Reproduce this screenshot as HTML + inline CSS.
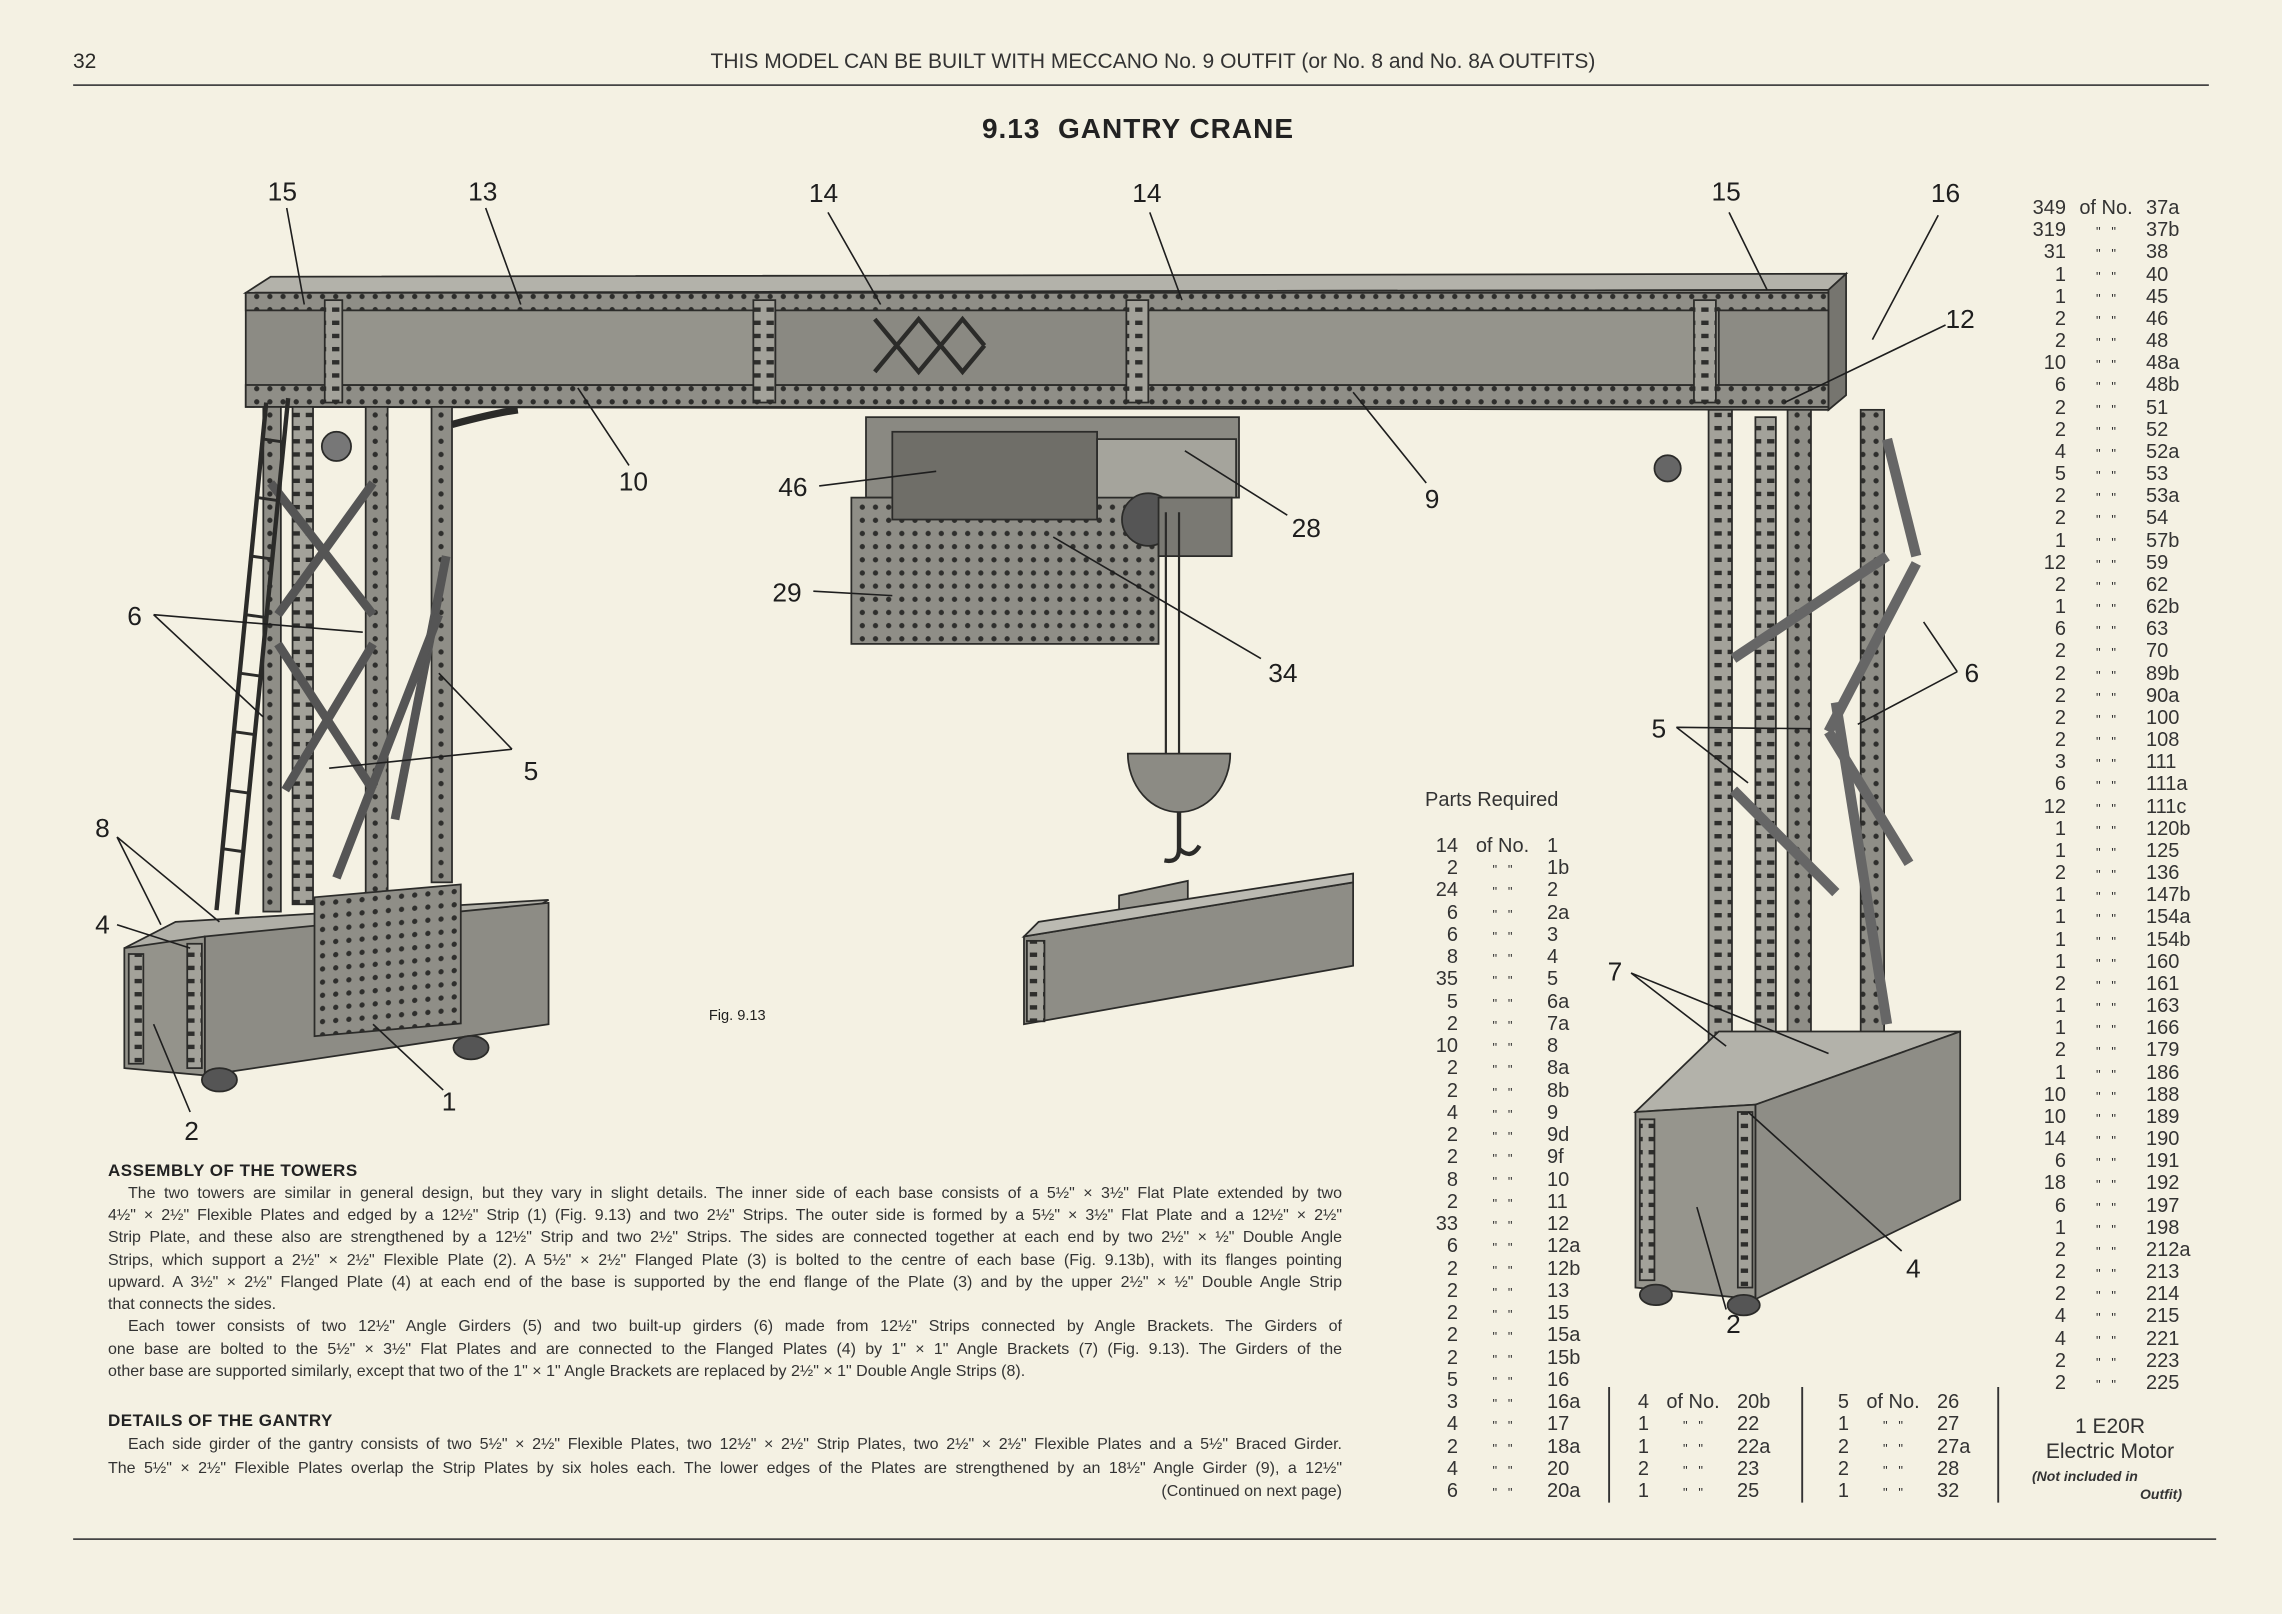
<!DOCTYPE html>
<html><head><meta charset="utf-8">
<style>
html,body{margin:0;padding:0}
body{width:2282px;height:1614px;position:relative;background:#f4f1e3;overflow:hidden;font-family:"Liberation Sans",sans-serif;color:#2a2a28}
svg{position:absolute;left:0;top:0}
.t{position:absolute;white-space:nowrap}
.p{position:absolute;left:108px;width:1234px;font-family:"Liberation Sans Narrow","Liberation Sans",sans-serif;font-size:16px;line-height:22px;text-align:justify;text-align-last:justify;white-space:nowrap;color:#333}
.h{position:absolute;left:108px;font-weight:bold;font-size:17px;letter-spacing:0.5px;color:#222}
.r{position:absolute;height:22px;line-height:22px;font-size:20px;white-space:nowrap;color:#333}
.r span{display:inline-block}
.q{width:44px;text-align:right}
.c1 .o{width:89px;text-align:center;font-size:13px}
.c2 .o{width:80px;text-align:center;font-size:13px}
.c3 .o{width:88px;text-align:center;font-size:13px}
.of{font-size:20px!important}
</style></head><body>
<svg width="2282" height="1614" viewBox="0 0 1560 1103">
<defs>
<pattern id="hp" width="9" height="9" patternUnits="userSpaceOnUse"><rect width="9" height="9" fill="#8f8e87"/><circle cx="4.5" cy="4.5" r="1.8" fill="#2e2e2c"/></pattern>
<pattern id="hv" width="9" height="9" patternUnits="userSpaceOnUse"><rect width="9" height="9" fill="#a3a29a"/><rect x="2" y="3" width="5" height="3" fill="#2e2e2c"/></pattern>
</defs>
<g stroke="#2b2b29" stroke-width="1.2">
<line x1="50" y1="58" x2="1510" y2="58" stroke="#444"/>
<line x1="50" y1="1052" x2="1515" y2="1052" stroke="#444"/>
<polygon points="168,200 185,189 1262,187 1250,198" fill="#b3b2aa"/>
<polygon points="168,200 1250,198 1250,280 168,278" fill="#8c8b84"/>
<rect x="168" y="200" width="1082" height="12" fill="url(#hp)"/>
<rect x="168" y="263" width="1082" height="15" fill="url(#hp)"/>
<rect x="225" y="212" width="290" height="51" fill="#95948c"/>
<rect x="530" y="212" width="240" height="51" fill="#8a8982"/>
<rect x="785" y="212" width="390" height="51" fill="#95948c"/>
<path d="M598,218 l15,18 l15,-18 l15,18 l15,-18 l15,18 M598,254 l15,-18 l15,18 l15,-18 l15,18 l15,-18" fill="none" stroke-width="3"/>
<rect x="515" y="205" width="15" height="70" fill="url(#hv)"/>
<rect x="770" y="205" width="15" height="70" fill="url(#hv)"/>
<rect x="1158" y="205" width="15" height="70" fill="url(#hv)"/>
<rect x="222" y="205" width="12" height="70" fill="url(#hv)"/>
<polygon points="1250,198 1262,187 1262,270 1250,280" fill="#76756f"/>
<rect x="200" y="278" width="14" height="340" fill="url(#hv)"/>
<rect x="250" y="278" width="15" height="335" fill="url(#hp)"/>
<rect x="295" y="278" width="14" height="325" fill="url(#hp)"/>
<rect x="180" y="278" width="12" height="345" fill="url(#hp)"/>
<g stroke-width="6" stroke="#555">
<line x1="185" y1="330" x2="255" y2="420"/><line x1="255" y1="330" x2="190" y2="420"/>
<line x1="190" y1="440" x2="255" y2="540"/><line x1="255" y1="440" x2="195" y2="540"/>
<line x1="270" y1="560" x2="305" y2="380"/><line x1="230" y1="600" x2="300" y2="420"/>
</g>
<path d="M309,290 q30,-8 45,-10" fill="none" stroke-width="5"/>
<line x1="148" y1="622" x2="182" y2="275" stroke-width="3"/>
<line x1="162" y1="625" x2="197" y2="272" stroke-width="3"/>
<g stroke-width="2"><line x1="152" y1="580" x2="166" y2="582"/><line x1="156" y1="540" x2="170" y2="542"/><line x1="160" y1="500" x2="174" y2="502"/><line x1="164" y1="460" x2="178" y2="462"/><line x1="168" y1="420" x2="182" y2="422"/><line x1="172" y1="380" x2="186" y2="382"/><line x1="176" y1="340" x2="190" y2="342"/><line x1="180" y1="300" x2="194" y2="302"/></g>
<circle cx="230" cy="305" r="10" fill="#777"/>
<polygon points="85,648 120,630 375,615 340,635" fill="#b0afa7"/>
<polygon points="140,640 375,617 375,700 140,735" fill="#8d8c85"/>
<rect x="215" y="612" width="100" height="95" fill="url(#hp)" transform="skewY(-5) translate(0,20)"/>
<polygon points="85,648 140,640 140,735 85,730" fill="#94938b"/>
<rect x="88" y="652" width="10" height="75" fill="url(#hv)"/>
<rect x="128" y="645" width="10" height="85" fill="url(#hv)"/>
<ellipse cx="150" cy="738" rx="12" ry="8" fill="#555"/>
<ellipse cx="322" cy="716" rx="12" ry="8" fill="#555"/>
<rect x="1168" y="280" width="16" height="440" fill="url(#hv)"/>
<rect x="1222" y="280" width="16" height="430" fill="url(#hp)"/>
<rect x="1200" y="285" width="14" height="425" fill="url(#hv)"/>
<rect x="1272" y="280" width="16" height="430" fill="url(#hp)"/>
<g stroke-width="7" stroke="#666">
<line x1="1185" y1="450" x2="1290" y2="380"/><line x1="1290" y1="300" x2="1310" y2="380"/>
<line x1="1310" y1="385" x2="1250" y2="500"/><line x1="1250" y1="500" x2="1305" y2="590"/>
<line x1="1185" y1="540" x2="1255" y2="610"/><line x1="1255" y1="480" x2="1290" y2="700"/>
</g>
<circle cx="1140" cy="320" r="9" fill="#666"/>
<polygon points="1118,760 1175,705 1340,705 1200,755" fill="#b3b2aa"/>
<polygon points="1200,755 1340,705 1340,820 1200,888" fill="#8e8d86"/>
<polygon points="1118,760 1200,755 1200,888 1118,880" fill="#96958d"/>
<rect x="1121" y="765" width="10" height="110" fill="url(#hv)"/>
<rect x="1188" y="760" width="10" height="120" fill="url(#hv)"/>
<ellipse cx="1132" cy="885" rx="11" ry="7" fill="#555"/>
<ellipse cx="1192" cy="892" rx="11" ry="7" fill="#555"/>
<rect x="592" y="285" width="255" height="55" fill="#8a8982"/>
<rect x="582" y="340" width="210" height="100" fill="url(#hp)"/>
<rect x="610" y="295" width="140" height="60" fill="#6f6e68"/>
<rect x="750" y="300" width="95" height="40" fill="#a5a49c"/>
<circle cx="785" cy="355" r="18" fill="#555"/>
<rect x="792" y="340" width="50" height="40" fill="#7a7973"/>
<line x1="797" y1="350" x2="797" y2="515" stroke-width="1.5"/>
<line x1="806" y1="350" x2="806" y2="515" stroke-width="1.5"/>
<path d="M771,515 h70 a35,40 0 0 1 -70,0 z" fill="#8c8b84"/>
<path d="M806,555 v25 q0,10 -10,8 M806,580 q8,8 14,-2" fill="none" stroke-width="3"/>
<polygon points="765,612 812,602 812,625 765,632" fill="#999890"/>
<polygon points="700,640 925,603 925,660 700,700" fill="#8e8d86"/>
<polygon points="700,640 710,630 925,597 925,603" fill="#bbbab2"/>
<rect x="702" y="643" width="12" height="55" fill="url(#hv)"/>
</g>
<g stroke="#1e1e1e" stroke-width="1.1" fill="none">
<path d="M196,142 L208,208 M332,142 L356,208 M566,145 L602,208 M786,145 L808,205 M1182,145 L1208,198 M1325,147 L1280,232 M1330,222 L1220,275 M430,318 L395,265 M560,332 L640,322 M880,352 L810,308 M975,330 L925,268 M556,404 L610,407 M862,450 L720,367 M105,420 L180,490 M105,420 L248,432 M350,512 L300,460 M350,512 L225,525 M80,572 L110,632 M80,572 L150,630 M80,632 L130,648 M130,760 L105,700 M303,745 L255,700 M1338,459 L1315,425 M1338,459 L1270,495 M1146,497 L1238,498 M1146,497 L1195,535 M1115,665 L1180,715 M1115,665 L1250,720 M1300,855 L1195,760 M1180,895 L1160,825"/>
</g>
<g font-family="Liberation Sans, sans-serif" font-size="18" fill="#1e1e1e" text-anchor="middle">
<text x="193" y="137">15</text><text x="330" y="137">13</text><text x="563" y="138">14</text><text x="784" y="138">14</text><text x="1180" y="137">15</text><text x="1330" y="138">16</text><text x="1340" y="224">12</text><text x="433" y="335">10</text><text x="542" y="339">46</text><text x="893" y="367">28</text><text x="979" y="347">9</text><text x="538" y="411">29</text><text x="877" y="466">34</text><text x="92" y="427">6</text><text x="363" y="533">5</text><text x="70" y="572">8</text><text x="70" y="638">4</text><text x="131" y="779">2</text><text x="307" y="759">1</text><text x="1348" y="466">6</text><text x="1134" y="504">5</text><text x="1104" y="670">7</text><text x="1308" y="873">4</text><text x="1185" y="911">2</text>
<text x="504" y="697" font-size="10">Fig. 9.13</text>
</g>
<g stroke="#333" stroke-width="1.3"><line x1="1100" y1="948" x2="1100" y2="1027"/><line x1="1232" y1="948" x2="1232" y2="1027"/><line x1="1366" y1="948" x2="1366" y2="1027"/></g>
</svg>

<div class="t" style="left:73px;top:50px;font-size:21px">32</div>
<div class="t" style="left:0;width:2306px;text-align:center;top:50px;font-size:21px;color:#333">THIS MODEL CAN BE BUILT WITH MECCANO No. 9 OUTFIT (or No. 8 and No. 8A OUTFITS)</div>
<div class="t" style="left:0;width:2276px;text-align:center;top:113px;font-size:28px;font-weight:bold;letter-spacing:1px;color:#222">9.13&nbsp; GANTRY CRANE</div>

<div class="h" style="top:1161px">ASSEMBLY OF THE TOWERS</div>
<div class="p" style="top:1183px;left:128px;width:1214px">The two towers are similar in general design, but they vary in slight details. The inner side of each base consists of a 5½" × 3½" Flat Plate extended by two</div>
<div class="p" style="top:1205px">4½" × 2½" Flexible Plates and edged by a 12½" Strip (1) (Fig. 9.13) and two 2½" Strips. The outer side is formed by a 5½" × 3½" Flat Plate and a 12½" × 2½"</div>
<div class="p" style="top:1227px">Strip Plate, and these also are strengthened by a 12½" Strip and two 2½" Strips. The sides are connected together at each end by two 2½" × ½" Double Angle</div>
<div class="p" style="top:1250px">Strips, which support a 2½" × 2½" Flexible Plate (2). A 5½" × 2½" Flanged Plate (3) is bolted to the centre of each base (Fig. 9.13b), with its flanges pointing</div>
<div class="p" style="top:1272px">upward. A 3½" × 2½" Flanged Plate (4) at each end of the base is supported by the end flange of the Plate (3) and by the upper 2½" × ½" Double Angle Strip</div>
<div class="p" style="top:1294px;text-align-last:left">that connects the sides.</div>
<div class="p" style="top:1316px;left:128px;width:1214px">Each tower consists of two 12½" Angle Girders (5) and two built-up girders (6) made from 12½" Strips connected by Angle Brackets. The Girders of</div>
<div class="p" style="top:1339px">one base are bolted to the 5½" × 3½" Flat Plates and are connected to the Flanged Plates (4) by 1" × 1" Angle Brackets (7) (Fig. 9.13). The Girders of the</div>
<div class="p" style="top:1361px;text-align-last:left">other base are supported similarly, except that two of the 1" × 1" Angle Brackets are replaced by 2½" × 1" Double Angle Strips (8).</div>
<div class="h" style="top:1411px">DETAILS OF THE GANTRY</div>
<div class="p" style="top:1434px;left:128px;width:1214px">Each side girder of the gantry consists of two 5½" × 2½" Flexible Plates, two 12½" × 2½" Strip Plates, two 2½" × 2½" Flexible Plates and a 5½" Braced Girder.</div>
<div class="p" style="top:1458px">The 5½" × 2½" Flexible Plates overlap the Strip Plates by six holes each. The lower edges of the Plates are strengthened by an 18½" Angle Girder (9), a 12½"</div>
<div class="p" style="top:1481px;text-align:right;text-align-last:right">(Continued on next page)</div>

<div class="t" style="left:1425px;top:789px;font-size:20px;color:#333">Parts Required</div>

<div class="c1">
<div class="r" style="left:1414px;top:835px"><span class="q">14</span><span class="o of">of No.</span><span>1</span></div>
<div class="r" style="left:1414px;top:857px"><span class="q">2</span><span class="o">"&nbsp;&nbsp;&nbsp;"</span><span>1b</span></div>
<div class="r" style="left:1414px;top:879px"><span class="q">24</span><span class="o">"&nbsp;&nbsp;&nbsp;"</span><span>2</span></div>
<div class="r" style="left:1414px;top:902px"><span class="q">6</span><span class="o">"&nbsp;&nbsp;&nbsp;"</span><span>2a</span></div>
<div class="r" style="left:1414px;top:924px"><span class="q">6</span><span class="o">"&nbsp;&nbsp;&nbsp;"</span><span>3</span></div>
<div class="r" style="left:1414px;top:946px"><span class="q">8</span><span class="o">"&nbsp;&nbsp;&nbsp;"</span><span>4</span></div>
<div class="r" style="left:1414px;top:968px"><span class="q">35</span><span class="o">"&nbsp;&nbsp;&nbsp;"</span><span>5</span></div>
<div class="r" style="left:1414px;top:991px"><span class="q">5</span><span class="o">"&nbsp;&nbsp;&nbsp;"</span><span>6a</span></div>
<div class="r" style="left:1414px;top:1013px"><span class="q">2</span><span class="o">"&nbsp;&nbsp;&nbsp;"</span><span>7a</span></div>
<div class="r" style="left:1414px;top:1035px"><span class="q">10</span><span class="o">"&nbsp;&nbsp;&nbsp;"</span><span>8</span></div>
<div class="r" style="left:1414px;top:1057px"><span class="q">2</span><span class="o">"&nbsp;&nbsp;&nbsp;"</span><span>8a</span></div>
<div class="r" style="left:1414px;top:1080px"><span class="q">2</span><span class="o">"&nbsp;&nbsp;&nbsp;"</span><span>8b</span></div>
<div class="r" style="left:1414px;top:1102px"><span class="q">4</span><span class="o">"&nbsp;&nbsp;&nbsp;"</span><span>9</span></div>
<div class="r" style="left:1414px;top:1124px"><span class="q">2</span><span class="o">"&nbsp;&nbsp;&nbsp;"</span><span>9d</span></div>
<div class="r" style="left:1414px;top:1146px"><span class="q">2</span><span class="o">"&nbsp;&nbsp;&nbsp;"</span><span>9f</span></div>
<div class="r" style="left:1414px;top:1169px"><span class="q">8</span><span class="o">"&nbsp;&nbsp;&nbsp;"</span><span>10</span></div>
<div class="r" style="left:1414px;top:1191px"><span class="q">2</span><span class="o">"&nbsp;&nbsp;&nbsp;"</span><span>11</span></div>
<div class="r" style="left:1414px;top:1213px"><span class="q">33</span><span class="o">"&nbsp;&nbsp;&nbsp;"</span><span>12</span></div>
<div class="r" style="left:1414px;top:1235px"><span class="q">6</span><span class="o">"&nbsp;&nbsp;&nbsp;"</span><span>12a</span></div>
<div class="r" style="left:1414px;top:1258px"><span class="q">2</span><span class="o">"&nbsp;&nbsp;&nbsp;"</span><span>12b</span></div>
<div class="r" style="left:1414px;top:1280px"><span class="q">2</span><span class="o">"&nbsp;&nbsp;&nbsp;"</span><span>13</span></div>
<div class="r" style="left:1414px;top:1302px"><span class="q">2</span><span class="o">"&nbsp;&nbsp;&nbsp;"</span><span>15</span></div>
<div class="r" style="left:1414px;top:1324px"><span class="q">2</span><span class="o">"&nbsp;&nbsp;&nbsp;"</span><span>15a</span></div>
<div class="r" style="left:1414px;top:1347px"><span class="q">2</span><span class="o">"&nbsp;&nbsp;&nbsp;"</span><span>15b</span></div>
<div class="r" style="left:1414px;top:1369px"><span class="q">5</span><span class="o">"&nbsp;&nbsp;&nbsp;"</span><span>16</span></div>
<div class="r" style="left:1414px;top:1391px"><span class="q">3</span><span class="o">"&nbsp;&nbsp;&nbsp;"</span><span>16a</span></div>
<div class="r" style="left:1414px;top:1413px"><span class="q">4</span><span class="o">"&nbsp;&nbsp;&nbsp;"</span><span>17</span></div>
<div class="r" style="left:1414px;top:1436px"><span class="q">2</span><span class="o">"&nbsp;&nbsp;&nbsp;"</span><span>18a</span></div>
<div class="r" style="left:1414px;top:1458px"><span class="q">4</span><span class="o">"&nbsp;&nbsp;&nbsp;"</span><span>20</span></div>
<div class="r" style="left:1414px;top:1480px"><span class="q">6</span><span class="o">"&nbsp;&nbsp;&nbsp;"</span><span>20a</span></div>
</div>

<div class="c3">
<div class="r" style="left:1605px;top:1391px"><span class="q">4</span><span class="o of">of No.</span><span>20b</span></div>
<div class="r" style="left:1605px;top:1413px"><span class="q">1</span><span class="o">"&nbsp;&nbsp;&nbsp;"</span><span>22</span></div>
<div class="r" style="left:1605px;top:1436px"><span class="q">1</span><span class="o">"&nbsp;&nbsp;&nbsp;"</span><span>22a</span></div>
<div class="r" style="left:1605px;top:1458px"><span class="q">2</span><span class="o">"&nbsp;&nbsp;&nbsp;"</span><span>23</span></div>
<div class="r" style="left:1605px;top:1480px"><span class="q">1</span><span class="o">"&nbsp;&nbsp;&nbsp;"</span><span>25</span></div>
<div class="r" style="left:1805px;top:1391px"><span class="q">5</span><span class="o of">of No.</span><span>26</span></div>
<div class="r" style="left:1805px;top:1413px"><span class="q">1</span><span class="o">"&nbsp;&nbsp;&nbsp;"</span><span>27</span></div>
<div class="r" style="left:1805px;top:1436px"><span class="q">2</span><span class="o">"&nbsp;&nbsp;&nbsp;"</span><span>27a</span></div>
<div class="r" style="left:1805px;top:1458px"><span class="q">2</span><span class="o">"&nbsp;&nbsp;&nbsp;"</span><span>28</span></div>
<div class="r" style="left:1805px;top:1480px"><span class="q">1</span><span class="o">"&nbsp;&nbsp;&nbsp;"</span><span>32</span></div>
</div>

<div class="c2">
<div class="r" style="left:2022px;top:197px"><span class="q">349</span><span class="o of">of No.</span><span>37a</span></div>
<div class="r" style="left:2022px;top:219px"><span class="q">319</span><span class="o">"&nbsp;&nbsp;&nbsp;"</span><span>37b</span></div>
<div class="r" style="left:2022px;top:241px"><span class="q">31</span><span class="o">"&nbsp;&nbsp;&nbsp;"</span><span>38</span></div>
<div class="r" style="left:2022px;top:264px"><span class="q">1</span><span class="o">"&nbsp;&nbsp;&nbsp;"</span><span>40</span></div>
<div class="r" style="left:2022px;top:286px"><span class="q">1</span><span class="o">"&nbsp;&nbsp;&nbsp;"</span><span>45</span></div>
<div class="r" style="left:2022px;top:308px"><span class="q">2</span><span class="o">"&nbsp;&nbsp;&nbsp;"</span><span>46</span></div>
<div class="r" style="left:2022px;top:330px"><span class="q">2</span><span class="o">"&nbsp;&nbsp;&nbsp;"</span><span>48</span></div>
<div class="r" style="left:2022px;top:352px"><span class="q">10</span><span class="o">"&nbsp;&nbsp;&nbsp;"</span><span>48a</span></div>
<div class="r" style="left:2022px;top:374px"><span class="q">6</span><span class="o">"&nbsp;&nbsp;&nbsp;"</span><span>48b</span></div>
<div class="r" style="left:2022px;top:397px"><span class="q">2</span><span class="o">"&nbsp;&nbsp;&nbsp;"</span><span>51</span></div>
<div class="r" style="left:2022px;top:419px"><span class="q">2</span><span class="o">"&nbsp;&nbsp;&nbsp;"</span><span>52</span></div>
<div class="r" style="left:2022px;top:441px"><span class="q">4</span><span class="o">"&nbsp;&nbsp;&nbsp;"</span><span>52a</span></div>
<div class="r" style="left:2022px;top:463px"><span class="q">5</span><span class="o">"&nbsp;&nbsp;&nbsp;"</span><span>53</span></div>
<div class="r" style="left:2022px;top:485px"><span class="q">2</span><span class="o">"&nbsp;&nbsp;&nbsp;"</span><span>53a</span></div>
<div class="r" style="left:2022px;top:507px"><span class="q">2</span><span class="o">"&nbsp;&nbsp;&nbsp;"</span><span>54</span></div>
<div class="r" style="left:2022px;top:530px"><span class="q">1</span><span class="o">"&nbsp;&nbsp;&nbsp;"</span><span>57b</span></div>
<div class="r" style="left:2022px;top:552px"><span class="q">12</span><span class="o">"&nbsp;&nbsp;&nbsp;"</span><span>59</span></div>
<div class="r" style="left:2022px;top:574px"><span class="q">2</span><span class="o">"&nbsp;&nbsp;&nbsp;"</span><span>62</span></div>
<div class="r" style="left:2022px;top:596px"><span class="q">1</span><span class="o">"&nbsp;&nbsp;&nbsp;"</span><span>62b</span></div>
<div class="r" style="left:2022px;top:618px"><span class="q">6</span><span class="o">"&nbsp;&nbsp;&nbsp;"</span><span>63</span></div>
<div class="r" style="left:2022px;top:640px"><span class="q">2</span><span class="o">"&nbsp;&nbsp;&nbsp;"</span><span>70</span></div>
<div class="r" style="left:2022px;top:663px"><span class="q">2</span><span class="o">"&nbsp;&nbsp;&nbsp;"</span><span>89b</span></div>
<div class="r" style="left:2022px;top:685px"><span class="q">2</span><span class="o">"&nbsp;&nbsp;&nbsp;"</span><span>90a</span></div>
<div class="r" style="left:2022px;top:707px"><span class="q">2</span><span class="o">"&nbsp;&nbsp;&nbsp;"</span><span>100</span></div>
<div class="r" style="left:2022px;top:729px"><span class="q">2</span><span class="o">"&nbsp;&nbsp;&nbsp;"</span><span>108</span></div>
<div class="r" style="left:2022px;top:751px"><span class="q">3</span><span class="o">"&nbsp;&nbsp;&nbsp;"</span><span>111</span></div>
<div class="r" style="left:2022px;top:773px"><span class="q">6</span><span class="o">"&nbsp;&nbsp;&nbsp;"</span><span>111a</span></div>
<div class="r" style="left:2022px;top:796px"><span class="q">12</span><span class="o">"&nbsp;&nbsp;&nbsp;"</span><span>111c</span></div>
<div class="r" style="left:2022px;top:818px"><span class="q">1</span><span class="o">"&nbsp;&nbsp;&nbsp;"</span><span>120b</span></div>
<div class="r" style="left:2022px;top:840px"><span class="q">1</span><span class="o">"&nbsp;&nbsp;&nbsp;"</span><span>125</span></div>
<div class="r" style="left:2022px;top:862px"><span class="q">2</span><span class="o">"&nbsp;&nbsp;&nbsp;"</span><span>136</span></div>
<div class="r" style="left:2022px;top:884px"><span class="q">1</span><span class="o">"&nbsp;&nbsp;&nbsp;"</span><span>147b</span></div>
<div class="r" style="left:2022px;top:906px"><span class="q">1</span><span class="o">"&nbsp;&nbsp;&nbsp;"</span><span>154a</span></div>
<div class="r" style="left:2022px;top:929px"><span class="q">1</span><span class="o">"&nbsp;&nbsp;&nbsp;"</span><span>154b</span></div>
<div class="r" style="left:2022px;top:951px"><span class="q">1</span><span class="o">"&nbsp;&nbsp;&nbsp;"</span><span>160</span></div>
<div class="r" style="left:2022px;top:973px"><span class="q">2</span><span class="o">"&nbsp;&nbsp;&nbsp;"</span><span>161</span></div>
<div class="r" style="left:2022px;top:995px"><span class="q">1</span><span class="o">"&nbsp;&nbsp;&nbsp;"</span><span>163</span></div>
<div class="r" style="left:2022px;top:1017px"><span class="q">1</span><span class="o">"&nbsp;&nbsp;&nbsp;"</span><span>166</span></div>
<div class="r" style="left:2022px;top:1039px"><span class="q">2</span><span class="o">"&nbsp;&nbsp;&nbsp;"</span><span>179</span></div>
<div class="r" style="left:2022px;top:1062px"><span class="q">1</span><span class="o">"&nbsp;&nbsp;&nbsp;"</span><span>186</span></div>
<div class="r" style="left:2022px;top:1084px"><span class="q">10</span><span class="o">"&nbsp;&nbsp;&nbsp;"</span><span>188</span></div>
<div class="r" style="left:2022px;top:1106px"><span class="q">10</span><span class="o">"&nbsp;&nbsp;&nbsp;"</span><span>189</span></div>
<div class="r" style="left:2022px;top:1128px"><span class="q">14</span><span class="o">"&nbsp;&nbsp;&nbsp;"</span><span>190</span></div>
<div class="r" style="left:2022px;top:1150px"><span class="q">6</span><span class="o">"&nbsp;&nbsp;&nbsp;"</span><span>191</span></div>
<div class="r" style="left:2022px;top:1172px"><span class="q">18</span><span class="o">"&nbsp;&nbsp;&nbsp;"</span><span>192</span></div>
<div class="r" style="left:2022px;top:1195px"><span class="q">6</span><span class="o">"&nbsp;&nbsp;&nbsp;"</span><span>197</span></div>
<div class="r" style="left:2022px;top:1217px"><span class="q">1</span><span class="o">"&nbsp;&nbsp;&nbsp;"</span><span>198</span></div>
<div class="r" style="left:2022px;top:1239px"><span class="q">2</span><span class="o">"&nbsp;&nbsp;&nbsp;"</span><span>212a</span></div>
<div class="r" style="left:2022px;top:1261px"><span class="q">2</span><span class="o">"&nbsp;&nbsp;&nbsp;"</span><span>213</span></div>
<div class="r" style="left:2022px;top:1283px"><span class="q">2</span><span class="o">"&nbsp;&nbsp;&nbsp;"</span><span>214</span></div>
<div class="r" style="left:2022px;top:1305px"><span class="q">4</span><span class="o">"&nbsp;&nbsp;&nbsp;"</span><span>215</span></div>
<div class="r" style="left:2022px;top:1328px"><span class="q">4</span><span class="o">"&nbsp;&nbsp;&nbsp;"</span><span>221</span></div>
<div class="r" style="left:2022px;top:1350px"><span class="q">2</span><span class="o">"&nbsp;&nbsp;&nbsp;"</span><span>223</span></div>
<div class="r" style="left:2022px;top:1372px"><span class="q">2</span><span class="o">"&nbsp;&nbsp;&nbsp;"</span><span>225</span></div>
</div>

<div class="t" style="left:2010px;width:200px;text-align:center;top:1414px;font-size:21px;color:#333;line-height:25px">1 E20R<br>Electric Motor</div>
<div class="t" style="left:2032px;top:1468px;font-size:14px;font-weight:bold;font-style:italic;color:#333">(Not included in</div>
<div class="t" style="left:2140px;top:1486px;font-size:14px;font-weight:bold;font-style:italic;color:#333">Outfit)</div>
</body></html>
